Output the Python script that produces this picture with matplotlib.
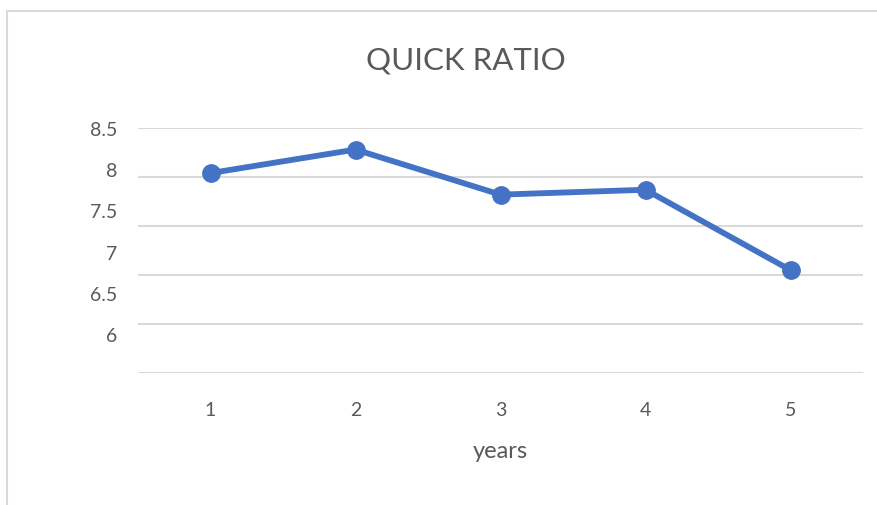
import matplotlib.pyplot as plt
from matplotlib.patches import Rectangle

years = [1, 2, 3, 4, 5]
quick_ratio = [8.04, 8.28, 7.82, 7.87, 7.05]
y_labels = ["8.5", "8", "7.5", "7", "6.5", "6"]

plt.rcParams['font.family'] = ['Lato', 'DejaVu Sans']
grey = "#595959"

fig = plt.figure(figsize=(8.77, 5.06), dpi=100)
ax = fig.add_axes([138 / 877, 1 - 374 / 506, 725 / 877, 245 / 506])

# chart border (only top and left visible in the crop)
fig.add_artist(Rectangle((7 / 877, -0.1), 1.2, 1 - 12 / 506 + 0.1,
                         transform=fig.transFigure, fill=False,
                         edgecolor="#D9D9D9", lw=1.5))

ax.plot(years, quick_ratio, color="#4472C4", lw=4.2, marker="o",
        markersize=12.5, solid_capstyle="round", zorder=3)

ax.set_xlim(0.5, 5.5)
ax.set_ylim(6, 8.5)
ax.set_xticks(years)
ax.set_xticklabels([str(y) for y in years])

# gridlines on major ticks, labels sit on minor ticks (as in the original)
ax.yaxis.remove_overlapping_locs = False
grid_vals = [8.5 - 0.5 * i for i in range(len(y_labels))]
ax.set_yticks(grid_vals)
ax.set_yticklabels([""] * len(grid_vals))
label_vals = [8.5 - 0.5 * i * 41.2 / 49 for i in range(len(y_labels))]
ax.set_yticks(label_vals, minor=True)
ax.set_yticklabels(y_labels, minor=True)
ax.tick_params(axis="y", which="both", length=0, pad=15, labelsize=14,
               labelcolor=grey)
ax.tick_params(axis="x", length=0, pad=20, labelsize=14, labelcolor=grey)
ax.grid(axis="y", which="major", color="#D9D9D9", lw=1.5)
for s in ax.spines.values():
    s.set_visible(False)

ax.set_xlabel("years", fontsize=17, color=grey, labelpad=16)
fig.text(466 / 877, 1 - 60 / 506, "QUICK RATIO", fontsize=22.5, color=grey,
         ha="center", va="center")

fig.savefig("out.png", dpi=100)
